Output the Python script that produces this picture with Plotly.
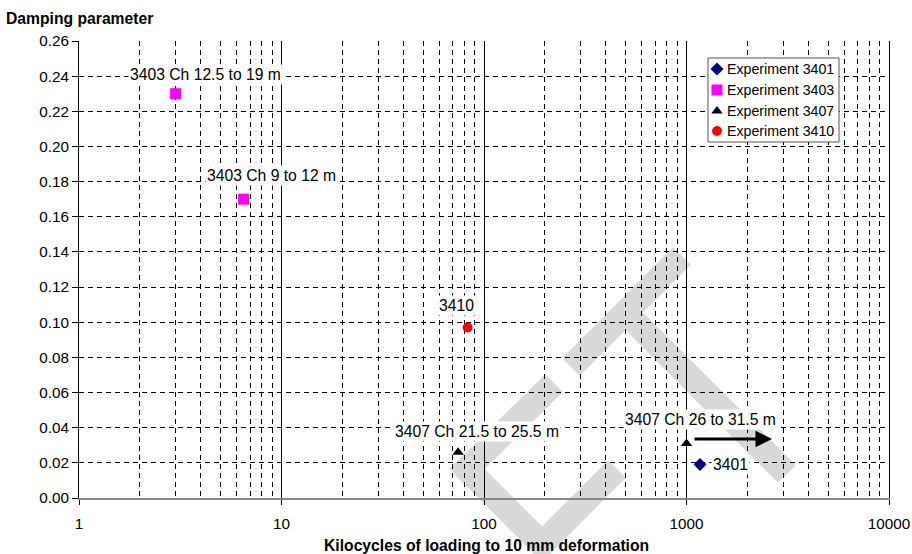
import math
import plotly.graph_objects as go

# Experiment data: kilocycles to 10 mm deformation vs damping parameter
exp_3401_x = [1166]
exp_3401_y = [0.019]
exp_3403_x = [3.0, 6.5]
exp_3403_y = [0.23, 0.17]
exp_3407_x = [74.5, 1000]
exp_3407_y = [0.026, 0.031]
exp_3410_x = [83]
exp_3410_y = [0.097]

x_ticks = [1, 10, 100, 1000, 10000]

# Point labels: (text, x, y)
point_labels = [
    ("3403 Ch 12.5 to 19 m", 4.19, 0.2407),
    ("3403 Ch 9 to 12 m", 8.97, 0.1832),
    ("3410", 72.8, 0.1098),
    ("3407 Ch 21.5 to 25.5 m", 92.2, 0.0376),
    ("3407 Ch 26 to 31.5 m", 1166, 0.0444),
    ("3401", 1640, 0.0193),
]
# "still running" arrow for the 3407 Ch 26 to 31.5 m point
arrow_from = (1077, 0.0336)
arrow_to = (2643, 0.0336)

series = [
    ("Experiment 3401", exp_3401_x, exp_3401_y, "diamond", 10, "#000080"),
    ("Experiment 3403", exp_3403_x, exp_3403_y, "square", 11, "#FF00FF"),
    ("Experiment 3407", exp_3407_x, exp_3407_y, "triangle-up", 10, "black"),
    ("Experiment 3410", exp_3410_x, exp_3410_y, "circle", 10, "#FF0000"),
]

FONT = "Liberation Sans, Arial, sans-serif"
FS = 15.7
TICK_FS = 15.3

# Plot area in page pixels
W, H = 912, 554
L, R, T, B = 79, 889, 41, 498


def px(X):
    return (X - L) / (R - L)


def py(Y):
    return (B - Y) / (B - T)


fig = go.Figure()
for name, xs, ys, sym, size, col in series:
    fig.add_trace(go.Scatter(x=xs, y=ys, mode="markers", name=name, showlegend=False,
                             marker=dict(symbol=sym, size=size, color=col)))

# Legend box drawn on an overlay axis spanning the plot area in paper units
leg_left, leg_right, leg_top, leg_bottom = 708, 839, 58, 142
leg_rows = [69, 90, 111, 131]
leg_marker_x = 717
leg_text_x = 725
fig.add_trace(go.Scatter(
    x=[px(leg_left), px(leg_right), px(leg_right), px(leg_left), px(leg_left)],
    y=[py(leg_top), py(leg_top), py(leg_bottom), py(leg_bottom), py(leg_top)],
    mode="lines", fill="toself", fillcolor="white", line=dict(color="#555555", width=1),
    xaxis="x2", yaxis="y2", showlegend=False, hoverinfo="skip"))
for (name, xs, ys, sym, size, col), ry in zip(series, leg_rows):
    fig.add_trace(go.Scatter(x=[px(leg_marker_x)], y=[py(ry)], mode="markers",
                             xaxis="x2", yaxis="y2", showlegend=False, hoverinfo="skip",
                             marker=dict(symbol=sym, size=size, color=col)))

shapes = []
# Background watermark strokes (page pixels), square-cornered
wm_color = "#d8d8d8"
wm_w = 25
wm_strokes = [
    [(554, 383), (467, 469), (False, True)],
    [(467, 469), (542, 544), (True, True)],
    [(542, 544), (617, 469), (True, False)],
    [(571, 367), (682, 256), (False, False)],
    [(625, 312), (787, 474), (False, False)],
]
for a, b, (ext_a, ext_b) in wm_strokes:
    dx, dy = b[0] - a[0], b[1] - a[1]
    n = math.hypot(dx, dy)
    ux, uy = dx / n, dy / n
    e = wm_w / 2
    ax_, ay_ = a
    bx_, by_ = b
    if ext_a:
        ax_, ay_ = ax_ - ux * e, ay_ - uy * e
    if ext_b:
        bx_, by_ = bx_ + ux * e, by_ + uy * e
    shapes.append(dict(type="line", xref="paper", yref="paper",
                       x0=px(ax_), y0=py(ay_), x1=px(bx_), y1=py(by_),
                       line=dict(color=wm_color, width=wm_w), layer="below"))

annotations = []
for text, x, y in point_labels:
    annotations.append(dict(text=text, x=math.log10(x), y=y, xref="x", yref="y",
                            showarrow=False, bgcolor="white",
                            font=dict(family=FONT, size=FS, color="black")))
annotations.append(dict(x=math.log10(arrow_to[0]), y=arrow_to[1],
                        ax=math.log10(arrow_from[0]), ay=arrow_from[1],
                        xref="x", yref="y", axref="x", ayref="y", text="",
                        showarrow=True, arrowhead=2, arrowsize=1.1, arrowwidth=3,
                        arrowcolor="black"))
for (name, *_), ry in zip(series, leg_rows):
    annotations.append(dict(text=name, x=px(leg_text_x), y=py(ry), xref="paper", yref="paper",
                            xanchor="left", yanchor="middle", showarrow=False,
                            font=dict(family=FONT, size=14.2, color="black")))
annotations.append(dict(text="<b>Damping parameter</b>", x=px(4), y=py(18),
                        xref="paper", yref="paper", showarrow=False,
                        xanchor="left", yanchor="middle",
                        font=dict(family=FONT, size=FS, color="black")))
annotations.append(dict(text="<b>Kilocycles of loading to 10 mm deformation</b>",
                        x=px(487), y=py(545), xref="paper", yref="paper", showarrow=False,
                        xanchor="center", yanchor="middle",
                        font=dict(family=FONT, size=FS, color="black")))

fig.update_layout(
    width=W, height=H,
    margin=dict(l=L, r=W - R, t=T, b=H - B, autoexpand=False),
    paper_bgcolor="white", plot_bgcolor="white",
    font=dict(family=FONT, size=FS, color="black"),
    shapes=shapes, annotations=annotations,
    showlegend=False,
    xaxis=dict(
        type="log", range=[0, 4], tickvals=x_ticks, ticktext=[str(v) for v in x_ticks],
        showgrid=True, gridcolor="black", gridwidth=1,
        minor=dict(showgrid=True, gridcolor="black", griddash="5px,4px", gridwidth=1,
                   dtick="D1", ticks=""),
        showline=True, linecolor="#888888", linewidth=2,
        ticks="outside", ticklen=5, tickcolor="black",
        tickfont=dict(family=FONT, size=TICK_FS), ticklabelstandoff=6, zeroline=False,
        automargin=False,
    ),
    yaxis=dict(
        range=[0, 0.26], dtick=0.02, tickformat=".2f",
        showgrid=True, gridcolor="black", griddash="5px,4px", gridwidth=1,
        showline=True, linecolor="black", linewidth=1, mirror=True,
        ticks="outside", ticklen=6, tickcolor="black",
        tickfont=dict(family=FONT, size=TICK_FS), zeroline=False, automargin=False,
    ),
    xaxis2=dict(overlaying="x", anchor="y2", range=[0, 1], visible=False,
                fixedrange=True, showgrid=False),
    yaxis2=dict(overlaying="y", anchor="x2", range=[0, 1], visible=False,
                fixedrange=True, showgrid=False),
)

fig.write_html("out.html")
